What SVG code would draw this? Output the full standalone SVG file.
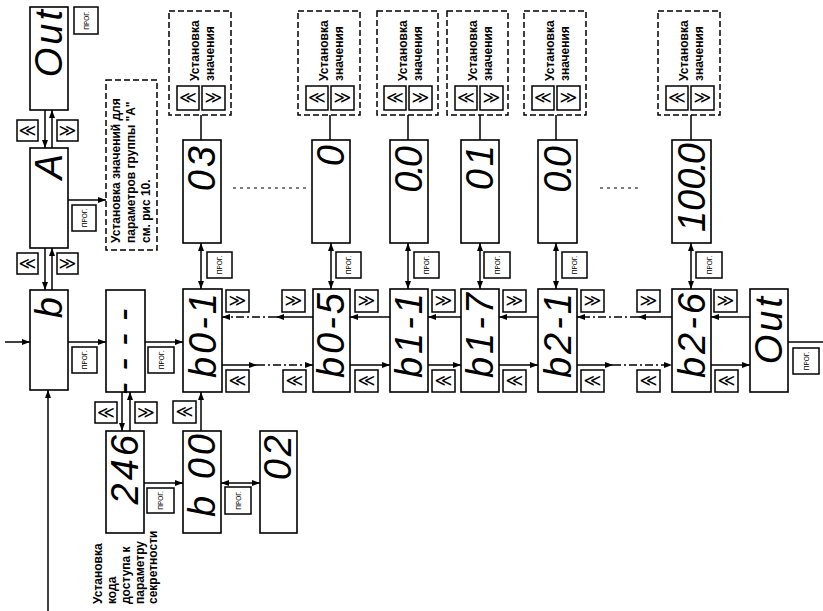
<svg xmlns="http://www.w3.org/2000/svg" width="823" height="611" viewBox="0 0 823 611">
<defs>
<style>
.box{fill:#fff;stroke:#000;stroke-width:1.6}
.dbox{fill:none;stroke:#000;stroke-width:1.5;stroke-dasharray:6 3}
.btn{fill:#fff;stroke:#000;stroke-width:1.5}
.seg{font-family:"Liberation Sans",Arial,sans-serif;font-style:italic;font-weight:normal;font-size:38px;letter-spacing:3px;text-anchor:end}
.tight{letter-spacing:0}
.lbl{font-family:"Liberation Sans",Arial,sans-serif;font-weight:bold;font-size:12px}
.prog{font-family:"Liberation Sans",Arial,sans-serif;font-size:6.5px;text-anchor:middle}
.chev{font-family:"DejaVu Sans",sans-serif;font-size:17px;text-anchor:middle}
.ln{stroke:#000;stroke-width:1.5;fill:none}
.dd{stroke:#000;stroke-width:1.5;fill:none;stroke-dasharray:8 3 2 3}
.dot{stroke:#000;stroke-width:1.2;fill:none;stroke-dasharray:3 4}
</style>
<marker id="ah" viewBox="0 0 8 6" refX="8" refY="3" markerWidth="8" markerHeight="6" markerUnits="userSpaceOnUse" orient="auto-start-reverse"><path d="M0,0L8,3L0,6z"/></marker>
</defs>

<!-- connectors -->
<g id="connectors">
<path class="ln" d="M45,110V148" marker-end="url(#ah)"/>
<path class="ln" d="M52,148V110" marker-end="url(#ah)"/>
<path class="ln" d="M45,248V290" marker-end="url(#ah)"/>
<path class="ln" d="M52,290V248" marker-end="url(#ah)"/>
<path class="ln" d="M68,200H106" marker-end="url(#ah)"/>
<path class="ln" d="M5,342H30" marker-end="url(#ah)"/>
<path class="ln" d="M48,611V390" marker-end="url(#ah)"/>
<path class="ln" d="M68,342H106" marker-end="url(#ah)"/>
<path class="ln" d="M145,342H183" marker-end="url(#ah)"/>
<path class="ln" d="M122,392V431" marker-end="url(#ah)"/>
<path class="ln" d="M130,431V392" marker-end="url(#ah)"/>
<path class="ln" d="M144,483H183" marker-end="url(#ah)"/>
<path class="ln" d="M221,483H260" marker-start="url(#ah)" marker-end="url(#ah)"/>
<path class="ln" d="M201,431V392" marker-end="url(#ah)"/>
<!-- value columns -->
<path class="ln" d="M201,243V289" marker-start="url(#ah)" marker-end="url(#ah)"/>
<path class="ln" d="M331,243V289" marker-start="url(#ah)" marker-end="url(#ah)"/>
<path class="ln" d="M408,243V289" marker-start="url(#ah)" marker-end="url(#ah)"/>
<path class="ln" d="M480,243V289" marker-start="url(#ah)" marker-end="url(#ah)"/>
<path class="ln" d="M556,243V289" marker-start="url(#ah)" marker-end="url(#ah)"/>
<path class="ln" d="M691,243V289" marker-start="url(#ah)" marker-end="url(#ah)"/>
<path class="ln" d="M201,115V140M330,115V140M408,115V140M480,115V140M556,115V140M691,115V140"/>
<!-- row links -->
<path class="ln" d="M313,317H276" marker-end="url(#ah)"/>
<path class="dd" d="M276,317H222" marker-end="url(#ah)"/>
<path class="ln" d="M222,365H257" marker-end="url(#ah)"/>
<path class="dd" d="M257,365H313" marker-end="url(#ah)"/>
<path class="ln" d="M390,317H350" marker-end="url(#ah)"/>
<path class="ln" d="M350,365H390" marker-end="url(#ah)"/>
<path class="ln" d="M461,317H428" marker-end="url(#ah)"/>
<path class="ln" d="M428,365H461" marker-end="url(#ah)"/>
<path class="ln" d="M538,317H499" marker-end="url(#ah)"/>
<path class="ln" d="M499,365H538" marker-end="url(#ah)"/>
<path class="ln" d="M672,317H638" marker-end="url(#ah)"/>
<path class="dd" d="M638,317H577" marker-end="url(#ah)"/>
<path class="ln" d="M577,365H613" marker-end="url(#ah)"/>
<path class="dd" d="M613,365H672" marker-end="url(#ah)"/>
<path class="ln" d="M750,317H711" marker-end="url(#ah)"/>
<path class="ln" d="M711,365H750" marker-end="url(#ah)"/>
<path class="ln" d="M788,342H823"/>
<path class="dot" d="M233,188H307M600,188H642"/>
</g>

<!-- displays -->
<g id="n-out1"><rect class="box" x="30" y="7" width="38" height="103"/><text class="seg" transform="translate(62,7) rotate(-90)">Out</text></g>
<g id="n-a"><rect class="box" x="30" y="148" width="38" height="100"/><text class="seg" transform="translate(62,151) rotate(-90)">A</text></g>
<g id="n-b"><rect class="box" x="30" y="290" width="38" height="100"/><text class="seg" transform="translate(62,294) rotate(-90)">b</text></g>
<g id="n-dash"><rect class="box" x="106" y="290" width="39" height="102"/><text class="seg" style="text-anchor:middle;letter-spacing:12px" transform="translate(136,346) rotate(-90)">----</text></g>
<g id="n-246"><rect class="box" x="106" y="431" width="38" height="102"/><text class="seg" transform="translate(138,432) rotate(-90)">246</text></g>
<g id="n-b00"><rect class="box" x="183" y="431" width="38" height="102"/><text class="seg" transform="translate(215,431) rotate(-90)">b 00</text></g>
<g id="n-02"><rect class="box" x="260" y="431" width="37" height="102"/><text class="seg" transform="translate(291,432) rotate(-90)">02</text></g>
<g id="n-b01"><rect class="box" x="183" y="289" width="39" height="103"/><text class="seg" transform="translate(216,290) rotate(-90)">b0-1</text></g>
<g id="n-03"><rect class="box" x="183" y="140" width="38" height="103"/><text class="seg" transform="translate(215,143) rotate(-90)">03</text></g>
<g id="n-b05"><rect class="box" x="313" y="289" width="37" height="103"/><text class="seg" transform="translate(344,290) rotate(-90)">b0-5</text></g>
<g id="n-0"><rect class="box" x="312" y="140" width="38" height="103"/><text class="seg" transform="translate(344,142) rotate(-90)">0</text></g>
<g id="n-b11"><rect class="box" x="390" y="289" width="38" height="103"/><text class="seg" transform="translate(422,290) rotate(-90)">b1-1</text></g>
<g id="n-00a"><rect class="box" x="390" y="140" width="38" height="103"/><text class="seg tight" transform="translate(422,146) rotate(-90)">0<tspan dx="-3">.</tspan><tspan dx="-3">0</tspan></text></g>
<g id="n-b17"><rect class="box" x="461" y="289" width="38" height="103"/><text class="seg" transform="translate(493,290) rotate(-90)">b1-7</text></g>
<g id="n-01"><rect class="box" x="461" y="140" width="38" height="103"/><text class="seg" transform="translate(493,142) rotate(-90)">01</text></g>
<g id="n-b21"><rect class="box" x="538" y="289" width="39" height="103"/><text class="seg" transform="translate(571,290) rotate(-90)">b2-1</text></g>
<g id="n-00b"><rect class="box" x="538" y="140" width="39" height="103"/><text class="seg tight" transform="translate(571,146) rotate(-90)">0<tspan dx="-3">.</tspan><tspan dx="-3">0</tspan></text></g>
<g id="n-b26"><rect class="box" x="672" y="289" width="39" height="103"/><text class="seg" transform="translate(705,290) rotate(-90)">b2-6</text></g>
<g id="n-100"><rect class="box" x="672" y="140" width="39" height="103"/><text class="seg tight" transform="translate(705,143) rotate(-90)">100<tspan dx="-3">.</tspan><tspan dx="-3">0</tspan></text></g>
<g id="n-out2"><rect class="box" x="750" y="289" width="38" height="103"/><text class="seg" transform="translate(782,294) rotate(-90)">Out</text></g>

<!-- note boxes -->
<g id="note-a"><rect class="dbox" x="106" y="80" width="51" height="170"/>
<text class="lbl" transform="translate(120,243) rotate(-90)">Установка значений для</text>
<text class="lbl" transform="translate(135,243) rotate(-90)">параметров группы "А"</text>
<text class="lbl" transform="translate(150,243) rotate(-90)">см. рис 10.</text></g>
<g id="note-code">
<text class="lbl" transform="translate(102,604) rotate(-90)">Установка</text>
<text class="lbl" transform="translate(116,604) rotate(-90)">кода</text>
<text class="lbl" transform="translate(130,604) rotate(-90)">доступа к</text>
<text class="lbl" transform="translate(144,604) rotate(-90)">параметру</text>
<text class="lbl" transform="translate(157,604) rotate(-90)">секретности</text></g>

<!-- value-setting boxes -->
<g id="set1"><rect class="dbox" x="169" y="11" width="62" height="104"/>
<text class="lbl" transform="translate(199,81) rotate(-90)">Установка</text><text class="lbl" transform="translate(214,81) rotate(-90)">значения</text>
<rect class="btn" x="177" y="86" width="22" height="24"/><text class="chev" x="188" y="103">≪</text>
<rect class="btn" x="202" y="86" width="23" height="24"/><text class="chev" x="213.5" y="103">≫</text></g>
<g id="set2"><rect class="dbox" x="298" y="11" width="62" height="104"/>
<text class="lbl" transform="translate(328,81) rotate(-90)">Установка</text><text class="lbl" transform="translate(343,81) rotate(-90)">значения</text>
<rect class="btn" x="306" y="86" width="22" height="24"/><text class="chev" x="317" y="103">≪</text>
<rect class="btn" x="331" y="86" width="23" height="24"/><text class="chev" x="342.5" y="103">≫</text></g>
<g id="set3"><rect class="dbox" x="377" y="11" width="61" height="104"/>
<text class="lbl" transform="translate(407,81) rotate(-90)">Установка</text><text class="lbl" transform="translate(422,81) rotate(-90)">значения</text>
<rect class="btn" x="384" y="86" width="22" height="24"/><text class="chev" x="395" y="103">≪</text>
<rect class="btn" x="409" y="86" width="23" height="24"/><text class="chev" x="420.5" y="103">≫</text></g>
<g id="set4"><rect class="dbox" x="447" y="11" width="61" height="104"/>
<text class="lbl" transform="translate(477,81) rotate(-90)">Установка</text><text class="lbl" transform="translate(492,81) rotate(-90)">значения</text>
<rect class="btn" x="455" y="86" width="22" height="24"/><text class="chev" x="466" y="103">≪</text>
<rect class="btn" x="480" y="86" width="23" height="24"/><text class="chev" x="491.5" y="103">≫</text></g>
<g id="set5"><rect class="dbox" x="524" y="11" width="62" height="104"/>
<text class="lbl" transform="translate(554,81) rotate(-90)">Установка</text><text class="lbl" transform="translate(569,81) rotate(-90)">значения</text>
<rect class="btn" x="532" y="86" width="22" height="24"/><text class="chev" x="543" y="103">≪</text>
<rect class="btn" x="557" y="86" width="23" height="24"/><text class="chev" x="568.5" y="103">≫</text></g>
<g id="set6"><rect class="dbox" x="658" y="11" width="62" height="104"/>
<text class="lbl" transform="translate(688,81) rotate(-90)">Установка</text><text class="lbl" transform="translate(703,81) rotate(-90)">значения</text>
<rect class="btn" x="666" y="86" width="22" height="24"/><text class="chev" x="677" y="103">≪</text>
<rect class="btn" x="691" y="86" width="23" height="24"/><text class="chev" x="702.5" y="103">≫</text></g>

<!-- arrow buttons -->
<g id="keys">
<rect class="btn" x="17" y="120" width="21" height="21"/><text class="chev" x="27.5" y="136">≪</text>
<rect class="btn" x="57" y="120" width="21" height="21"/><text class="chev" x="67.5" y="136">≫</text>
<rect class="btn" x="17" y="253" width="21" height="21"/><text class="chev" x="27.5" y="269">≪</text>
<rect class="btn" x="57" y="253" width="21" height="21"/><text class="chev" x="67.5" y="269">≫</text>
<rect class="btn" x="95" y="402" width="22" height="21"/><text class="chev" x="106" y="418">≪</text>
<rect class="btn" x="135" y="402" width="22" height="21"/><text class="chev" x="146" y="418">≫</text>
<rect class="btn" x="173" y="401" width="23" height="22"/><text class="chev" x="184.5" y="417">≪</text>
<rect class="btn" x="226" y="290" width="23" height="22"/><text class="chev" x="237.5" y="306">≫</text>
<rect class="btn" x="226" y="370" width="23" height="22"/><text class="chev" x="237.5" y="386">≪</text>
<rect class="btn" x="282" y="290" width="23" height="22"/><text class="chev" x="293.5" y="306">≫</text>
<rect class="btn" x="283" y="370" width="23" height="22"/><text class="chev" x="294.5" y="386">≪</text>
<rect class="btn" x="355" y="290" width="23" height="22"/><text class="chev" x="366.5" y="306">≫</text>
<rect class="btn" x="355" y="370" width="23" height="22"/><text class="chev" x="366.5" y="386">≪</text>
<rect class="btn" x="432" y="290" width="23" height="22"/><text class="chev" x="443.5" y="306">≫</text>
<rect class="btn" x="432" y="370" width="23" height="22"/><text class="chev" x="443.5" y="386">≪</text>
<rect class="btn" x="503" y="290" width="23" height="22"/><text class="chev" x="514.5" y="306">≫</text>
<rect class="btn" x="503" y="370" width="23" height="22"/><text class="chev" x="514.5" y="386">≪</text>
<rect class="btn" x="581" y="290" width="23" height="22"/><text class="chev" x="592.5" y="306">≫</text>
<rect class="btn" x="581" y="370" width="23" height="22"/><text class="chev" x="592.5" y="386">≪</text>
<rect class="btn" x="637" y="290" width="23" height="22"/><text class="chev" x="648.5" y="306">≫</text>
<rect class="btn" x="637" y="370" width="23" height="22"/><text class="chev" x="648.5" y="386">≪</text>
<rect class="btn" x="714" y="290" width="23" height="22"/><text class="chev" x="725.5" y="306">≫</text>
<rect class="btn" x="715" y="370" width="23" height="22"/><text class="chev" x="726.5" y="386">≪</text>
</g>

<!-- PROG buttons -->
<g id="prog-keys">
<rect class="btn" x="74" y="7" width="24" height="27"/><text class="prog" transform="translate(88.5,20.5) rotate(-90)">ПРОГ.</text>
<rect class="btn" x="72" y="205" width="24" height="26"/><text class="prog" transform="translate(86.5,218) rotate(-90)">ПРОГ.</text>
<rect class="btn" x="72" y="347" width="25" height="26"/><text class="prog" transform="translate(87,360) rotate(-90)">ПРОГ.</text>
<rect class="btn" x="148" y="347" width="26" height="26"/><text class="prog" transform="translate(163.5,360) rotate(-90)">ПРОГ.</text>
<rect class="btn" x="147" y="488" width="27" height="25"/><text class="prog" transform="translate(163,500.5) rotate(-90)">ПРОГ.</text>
<rect class="btn" x="225" y="487" width="26" height="27"/><text class="prog" transform="translate(240.5,500.5) rotate(-90)">ПРОГ.</text>
<rect class="btn" x="207" y="252" width="25" height="26"/><text class="prog" transform="translate(222,265) rotate(-90)">ПРОГ.</text>
<rect class="btn" x="336" y="252" width="25" height="26"/><text class="prog" transform="translate(351,265) rotate(-90)">ПРОГ.</text>
<rect class="btn" x="414" y="252" width="25" height="26"/><text class="prog" transform="translate(429,265) rotate(-90)">ПРОГ.</text>
<rect class="btn" x="484" y="252" width="26" height="26"/><text class="prog" transform="translate(499.5,265) rotate(-90)">ПРОГ.</text>
<rect class="btn" x="562" y="252" width="25" height="26"/><text class="prog" transform="translate(577,265) rotate(-90)">ПРОГ.</text>
<rect class="btn" x="696" y="252" width="26" height="26"/><text class="prog" transform="translate(711.5,265) rotate(-90)">ПРОГ.</text>
<rect class="btn" x="793" y="348" width="26" height="26"/><text class="prog" transform="translate(808.5,361) rotate(-90)">ПРОГ.</text>
</g>
</svg>
